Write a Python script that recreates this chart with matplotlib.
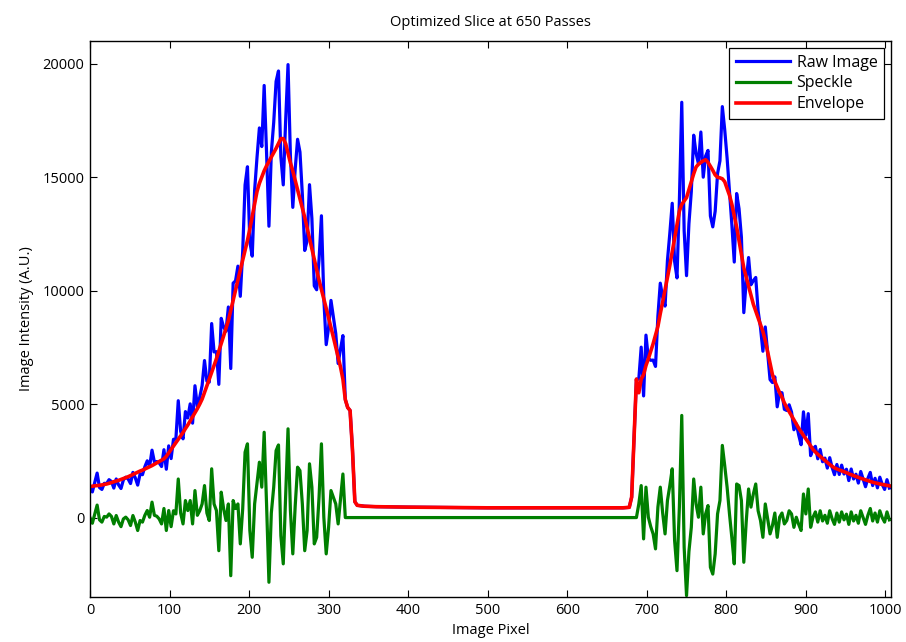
import numpy as np
import matplotlib
matplotlib.use("Agg")
import matplotlib.pyplot as plt

# ---- line profile through the optimized slice (650 passes) ----
# left lobe, sampled every 3 pixels
x_left = np.arange(0, 331, 3)
env_left = [
    1370, 1380, 1400, 1410, 1420, 1440, 1460, 1480, 1510, 1540,
    1580, 1610, 1640, 1680, 1720, 1760, 1800, 1850, 1900, 1950,
    2000, 2050, 2090, 2140, 2190, 2240, 2290, 2350, 2410, 2470,
    2530, 2590, 2700, 2850, 3000, 3150, 3300, 3450, 3600, 3750,
    3920, 4080, 4260, 4440, 4620, 4800, 5000, 5220, 5510, 5810,
    6100, 6400, 6700, 7000, 7330, 7660, 8000, 8340, 8680, 9130,
    9580, 10030, 10480, 10910, 11340, 11780, 12210, 12720, 13270, 13820,
    14370, 14730, 15010, 15280, 15500, 15690, 15880, 16070, 16270, 16480,
    16700, 16700, 16480, 16050, 15630, 15270, 14850, 14450, 14040, 13640,
    13230, 12770, 12300, 11840, 11370, 10910, 10460, 10050, 9630, 9220,
    8800, 8380, 7950, 7510, 7070, 6630, 6100, 5200, 4850, 4720,
    3000,
]
spk_left = [
    0, -250, 150, 550, -100, -200, 50, 20, 160, 50,
    -280, 90, -200, -400, -60, 20, -100, -350, 90, -200,
    -570, -130, -200, 100, 310, 15, 680, 100, 60, -60,
    -280, 400, -570, 310, -400, 300, 160, 1700, 200, -280,
    750, 310, 750, -280, 1190, 100, 300, 600, 1410, 200,
    -130, 2150, 600, 310, -1460, 1120, 400, -130, 600, -2560,
    750, 400, 600, -1160, 380, 2880, 3250, -570, -1750, 600,
    1500, 2440, 1340, 3760, 600, -2850, 200, 1340, 2950, 3200,
    -800, -2040, 1000, 3910, 310, -1600, 500, 2220, 2070, 600,
    -1460, -570, 2370, 1340, -1160, -870, 900, 3250, 15, -1600,
    -430, 1190, 900, 600, -280, 800, 1920, 0, 0, 0,
    0,
]

# gap between the lobes (no speckle there)
x_gap = [333, 336, 345, 360, 380, 400, 430, 460, 500, 550,
         600, 640, 670, 678, 681, 684]
env_gap = [700, 540, 500, 480, 470, 460, 450, 440, 430, 430,
           430, 430, 430, 450, 900, 3500]
spk_gap = [0] * len(x_gap)

# right lobe, sampled every 3 pixels
x_right = np.arange(687, 1006, 3)
env_right = [
    6100, 5500, 6100, 6300, 6700, 7000, 7330, 7660, 8040, 8420,
    8990, 9500, 10040, 10580, 11120, 11700, 12300, 12900, 13500, 13800,
    13950, 14100, 14450, 14800, 15150, 15450, 15570, 15650, 15720, 15770,
    15650, 15480, 15300, 15100, 15000, 14970, 14930, 14800, 14500, 14200,
    13800, 13300, 12800, 12200, 11600, 11000, 10600, 10200, 9800, 9400,
    9100, 8800, 8500, 8200, 7800, 7300, 6800, 6300, 6000, 5750,
    5500, 5300, 5050, 4850, 4670, 4490, 4300, 4120, 3940, 3780,
    3620, 3470, 3320, 3160, 3000, 2890, 2790, 2700, 2610, 2520,
    2430, 2340, 2260, 2190, 2140, 2100, 2060, 2020, 1980, 1930,
    1890, 1850, 1810, 1770, 1730, 1700, 1660, 1630, 1590, 1560,
    1530, 1510, 1480, 1460, 1440, 1420, 1400,
]
spk_right = [
    0, 600, 1410, -940, 1340, 15, -400, -720, -1380, 460,
    1340, 200, -720, 750, 1410, 2150, -1010, -2340, 460, 4500,
    -1310, -3440, -1500, -430, 1700, 600, 15, 1340, -720, 160,
    530, -2190, -2490, -1600, 160, 750, 3180, 2290, 1340, 160,
    -900, -2040, 1480, 1410, 750, -1970, -200, 1260, 460, 1040,
    1480, 300, -130, -870, 600, -60, -720, -350, 200, -870,
    15, 200, -280, -130, 300, 160, -430, 15, -300, -570,
    1040, 160, 1260, -430, 15, 250, -200, 300, -150, 100,
    -250, 300, -50, -300, 200, -200, 250, -100, 150, -300,
    250, -150, 100, -250, 300, 0, -300, 100, 400, -150,
    200, -200, 300, 0, -200, 250, -100,
]

pixel = np.concatenate([x_left, x_gap, x_right])
envelope = np.concatenate([env_left, env_gap, env_right]).astype(float)
speckle = np.concatenate([spk_left, spk_gap, spk_right]).astype(float)
raw = envelope + speckle

plt.rcParams.update({
    "font.family": ["Open Sans", "DejaVu Sans"],
    "font.size": 10.5,
    "axes.linewidth": 1.0,
    "xtick.direction": "in",
    "ytick.direction": "in",
    "xtick.major.size": 5,
    "ytick.major.size": 5,
})

fig = plt.figure(figsize=(9.06, 6.42), dpi=100)
ax = fig.add_axes([0.0993, 0.0701, 0.8841, 0.866])

ax.plot(pixel, raw, color="#0000ff", lw=2.3, label="Raw Image")
ax.plot(pixel, speckle, color="#007f00", lw=2.3, label="Speckle")
ax.plot(pixel, envelope, color="#ff0000", lw=2.6, label="Envelope")

ax.set_xlim(0, 1007)
ax.set_ylim(-3500, 21000)
ax.set_xticks(range(0, 1001, 100))
ax.set_yticks(range(0, 20001, 5000))
ax.tick_params(top=True, right=True, pad=4)

ax.set_title("Optimized Slice at 650 Passes", fontsize=10.5, pad=11)
ax.set_xlabel("Image Pixel", labelpad=4)
ax.set_ylabel("Image Intensity (A.U.)", labelpad=6)

leg = ax.legend(loc="upper right", fancybox=False, edgecolor="black",
                framealpha=1, borderaxespad=0.45, handlelength=3.4,
                handletextpad=0.4, labelspacing=0.3, borderpad=0.4,
                fontsize=11.5)
leg.get_frame().set_linewidth(0.9)

fig.savefig("out.png", dpi=100)
